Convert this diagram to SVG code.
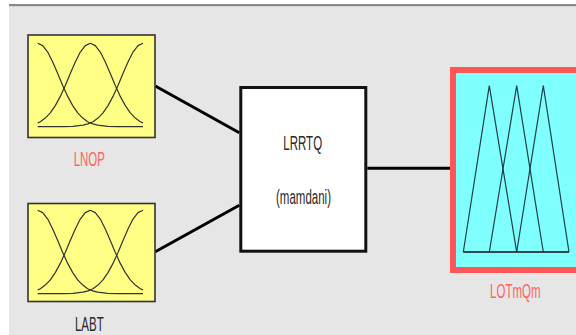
<svg xmlns="http://www.w3.org/2000/svg" xmlns:xlink="http://www.w3.org/1999/xlink" width="576" height="335" viewBox="0 0 576 335">
<style>
.lbl{font-family:"Liberation Sans",Arial,sans-serif;font-size:11.5px;text-anchor:middle}
.red{fill:#ff6464}
.dark{fill:#2a2a2a}
.mf{fill:none;stroke:#333;stroke-width:1.2;stroke-linejoin:round}
.in{fill:#ffff86;stroke:#333;stroke-width:1.6}
.tri{fill:none;stroke:#1d3f44;stroke-width:1.2}
.conn{stroke:#000;stroke-width:3;fill:none}
</style>
<defs>
<g id="mf">
<polyline class="mf" points="37.7,43.3 42.7,45.6 47.7,52.1 52.7,61.9 57.7,73.5 62.7,85.4 67.7,96.4 72.7,105.6 77.7,112.9 82.7,118.1 87.7,121.7 92.7,123.9 97.7,125.2 107.7,126.4 117.7,126.7 143,126.7"/>
<polyline class="mf" points="37.7,122.9 40.3,121.7 45.3,118.1 50.3,112.9 55.3,105.6 60.3,96.4 65.3,85.4 70.3,73.5 75.3,61.9 80.3,52.1 85.3,45.6 90.3,43.3 95.3,45.6 100.3,52.1 105.3,61.9 110.3,73.5 115.3,85.4 120.3,96.4 125.3,105.6 130.3,112.9 135.3,118.1 140.3,121.7 143,122.9"/>
<polyline class="mf" points="37.7,126.7 63,126.7 73,126.4 83,125.2 88,123.9 93,121.7 98,118.1 103,112.9 108,105.6 113,96.4 118,85.4 123,73.5 128,61.9 133,52.1 138,45.6 143,43.3"/>
</g>
</defs>
<rect x="0" y="0" width="576" height="335" fill="#ffffff"/>
<rect x="9" y="6" width="567" height="329" fill="#e6e6e6"/>
<rect x="9" y="4" width="567" height="2" fill="#8a8a8a"/>
<rect x="9" y="6" width="567" height="1" fill="#d4d4d4"/>

<g id="connectors">
<line class="conn" x1="155.3" y1="86" x2="239.3" y2="132.7"/>
<line class="conn" x1="155.3" y1="251.7" x2="239.3" y2="205.3"/>
<line class="conn" x1="367.3" y1="168.3" x2="450" y2="168.3"/>
</g>

<g id="node-LNOP">
<rect class="in" x="28" y="35" width="127" height="102.5"/>
<use xlink:href="#mf"/>
<text class="lbl red" transform="translate(89.3,165.7) scale(1,1.78)">LNOP</text>
</g>

<g id="node-LABT">
<rect class="in" x="28" y="203.5" width="127" height="98"/>
<use xlink:href="#mf" transform="translate(0,167)"/>
<text class="lbl dark" transform="translate(89.3,331) scale(1,1.78)">LABT</text>
</g>

<g id="node-LRRTQ">
<rect x="240.8" y="87.5" width="125" height="163.7" fill="#ffffff" stroke="#111" stroke-width="3"/>
<text class="lbl dark" transform="translate(302.7,150) scale(1,1.78)">LRRTQ</text>
<text class="lbl dark" transform="translate(303.5,203.5) scale(1,1.78)">(mamdani)</text>
</g>

<g id="node-LOTmQm">
<rect x="453" y="70" width="132" height="200" fill="#80ffff" stroke="#ff5555" stroke-width="6"/>
<polyline class="tri" points="463.3,252 489.3,85.7 516.7,252"/>
<polyline class="tri" points="489.3,252 516.7,85.7 543.3,252"/>
<polyline class="tri" points="516.7,252 543.3,85.7 569,252"/>
<line x1="463.3" y1="252" x2="569" y2="252" stroke="#111" stroke-width="1.5"/>
<text class="lbl red" transform="translate(515.3,298.3) scale(1,1.78)">LOTmQm</text>
</g>
</svg>
